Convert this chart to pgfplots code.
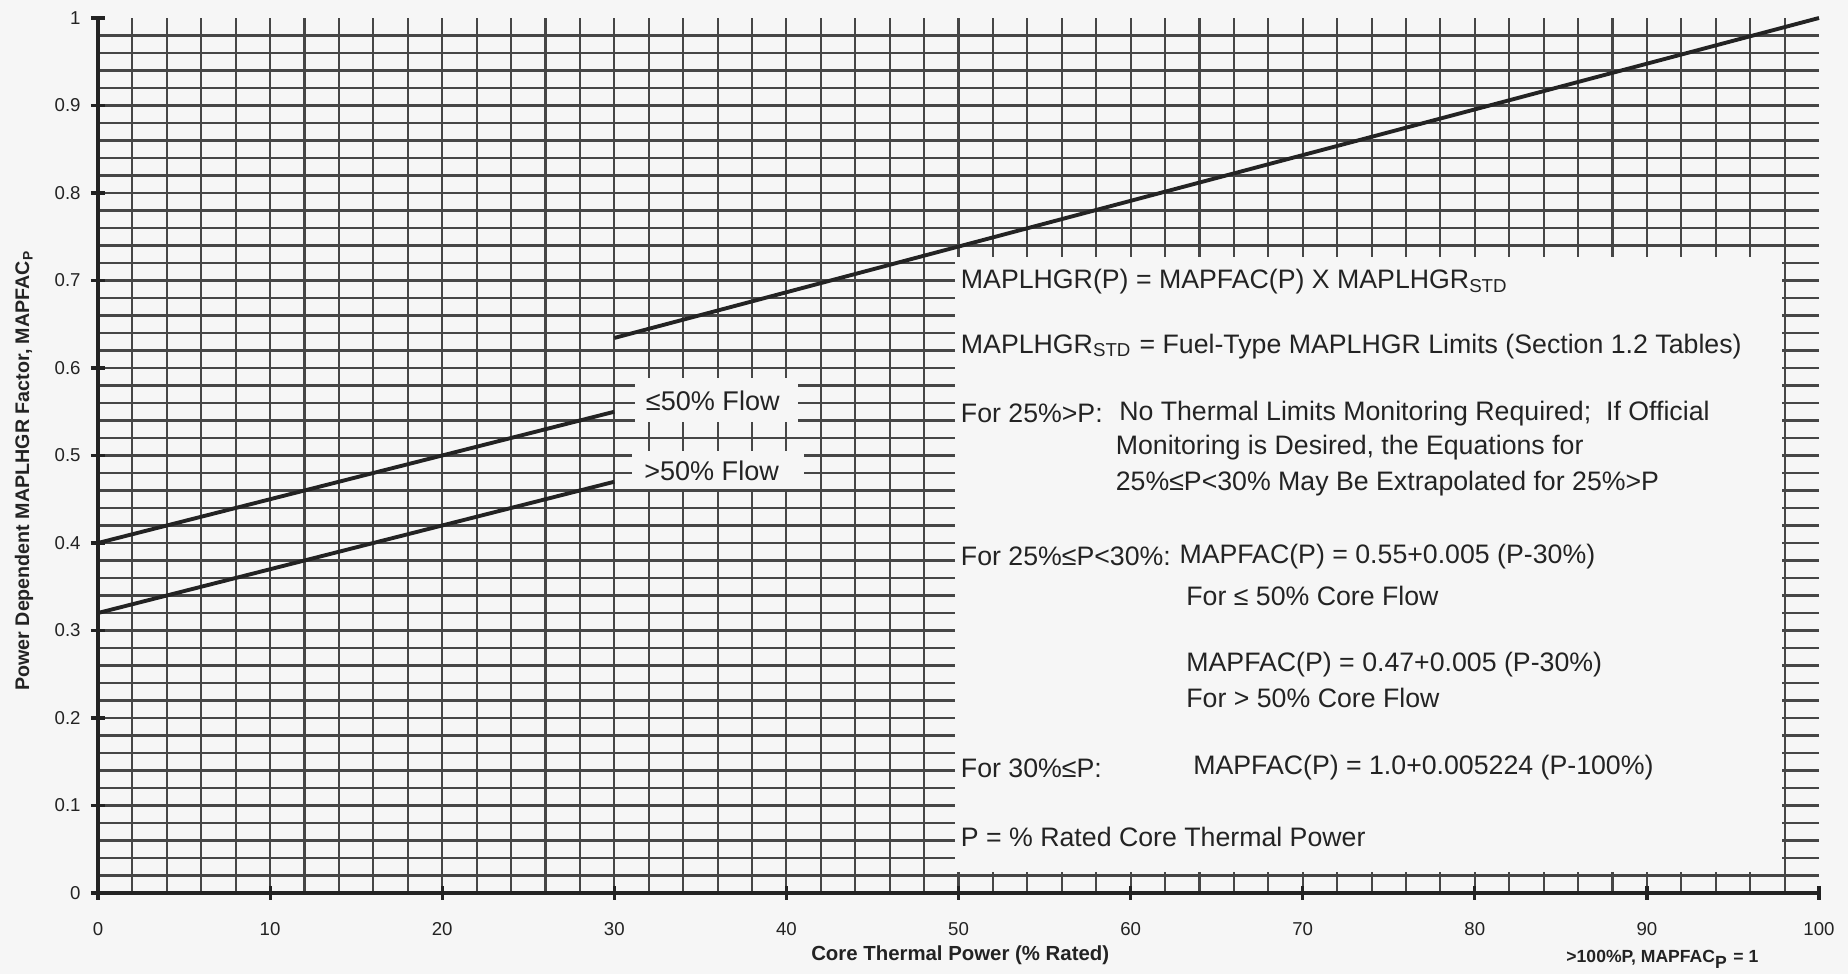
\documentclass[border=0pt]{standalone}
\usepackage{fontspec}
\setmainfont{Liberation Sans}
\usepackage{pgfplots}
\pgfplotsset{compat=1.18}
\definecolor{bg}{RGB}{246,246,246}
\definecolor{gridc}{RGB}{70,70,70}
\definecolor{linec}{RGB}{35,35,35}
\newcommand\bt{\fontsize{7.6}{8.5}\selectfont}
\begin{document}
\begin{tikzpicture}
\useasboundingbox[fill=bg] (-0.98cm,-0.81cm) rectangle (17.50cm,8.93cm);
\begin{axis}[
  at={(0,0)}, anchor=south west,
  scale only axis, width=17.21cm, height=8.75cm,
  xmin=0, xmax=100, ymin=0, ymax=1,
  clip=false,
  axis x line*=bottom, axis y line*=left,
  axis line style={line width=1.2pt, color=linec, -},
  xtick={0,10,...,90}, extra x ticks={100}, extra x tick style={grid=none},
  minor xtick={2,4,6,8,12,14,16,18,22,24,26,28,32,34,36,38,42,44,46,48,52,54,56,58,62,64,66,68,72,74,76,78,82,84,86,88,92,94,96,98},
  ytick={0,0.1,0.2,0.3,0.4,0.5,0.6,0.7,0.8,0.9}, extra y ticks={1}, extra y tick style={grid=none},
  minor ytick={0.02,0.04,0.06,0.08,0.12,0.14,0.16,0.18,0.22,0.24,0.26,0.28,0.32,0.34,0.36,0.38,0.42,0.44,0.46,0.48,0.52,0.54,0.56,0.58,0.62,0.64,0.66,0.68,0.72,0.74,0.76,0.78,0.82,0.84,0.86,0.88,0.92,0.94,0.96,0.98},
  grid=both,
  major grid style={gridc, line width=0.6pt},
  minor grid style={gridc, line width=0.6pt},
  major tick length=1.4mm, minor tick length=0pt,
  tick align=center,
  tick style={linec, line width=0.9pt},
  /pgf/number format/assume math mode=true,
  ticklabel style={font=\fontsize{5.3}{6}\selectfont, text=linec},
  xticklabel style={yshift=-1.0mm},
  yticklabel style={xshift=0.2mm},
]
% text panel
\fill[bg] (axis cs:49.8,0.024) rectangle (axis cs:97.85,0.727);
% flow label panels
\fill[bg] (axis cs:31.2,0.538) rectangle (axis cs:40.7,0.588);
\fill[bg] (axis cs:31.0,0.462) rectangle (axis cs:41.0,0.505);

\addplot[linec, line width=1.1pt] coordinates {(0,0.40) (30,0.55)};
\addplot[linec, line width=1.1pt] coordinates {(0,0.32) (30,0.47)};
\addplot[linec, line width=1.1pt] coordinates {(30,0.6343) (100,1.0)};

\node[anchor=west, inner sep=0, font=\fontsize{7.7}{8}\selectfont, text=linec] at (axis cs:31.8,0.562) {≤50\% Flow};
\node[anchor=west, inner sep=0, font=\fontsize{7.7}{8}\selectfont, text=linec] at (axis cs:31.7,0.482) {>50\% Flow};

\begin{scope}[every node/.style={anchor=west, inner sep=0, font=\bt, text=linec}]
\node at (axis cs:50.1,0.6985) {MAPLHGR(P) = MAPFAC(P) X MAPLHGR\textsubscript{STD}};
\node at (axis cs:50.1,0.6245) {MAPLHGR\textsubscript{STD} = Fuel-Type MAPLHGR Limits (Section 1.2 Tables)};
\node at (axis cs:50.1,0.548) {For 25\%>P:};
\node at (axis cs:59.3,0.548) {No Thermal Limits Monitoring Required;\ \ If Official};
\node at (axis cs:59.1,0.509) {Monitoring is Desired, the Equations for};
\node at (axis cs:59.1,0.468) {25\%≤P<30\% May Be Extrapolated for 25\%>P};
\node at (axis cs:50.1,0.385) {For 25\%≤P<30\%:};
\node at (axis cs:62.8,0.385) {MAPFAC(P) = 0.55+0.005 (P-30\%)};
\node at (axis cs:63.2,0.339) {For ≤ 50\% Core Flow};
\node at (axis cs:63.2,0.261) {MAPFAC(P) = 0.47+0.005 (P-30\%)};
\node at (axis cs:63.2,0.223) {For > 50\% Core Flow};
\node at (axis cs:50.1,0.143) {For 30\%≤P:};
\node at (axis cs:63.6,0.143) {MAPFAC(P) = 1.0+0.005224 (P-100\%)};
\node at (axis cs:50.1,0.0646) {P = \% Rated Core Thermal Power};
\end{scope}

\node[font=\bfseries\fontsize{5.8}{6}\selectfont, text=linec] at ([yshift=-6.25mm]axis cs:50.1,0) {Core Thermal Power (\% Rated)};
\node[font=\bfseries\fontsize{5}{6}\selectfont, text=linec] at ([yshift=-6.6mm]axis cs:90.9,0) {>100\%P, MAPFAC\textsubscript{P} = 1};
\node[rotate=90, font=\bfseries\fontsize{5.6}{6}\selectfont, text=linec] at ([xshift=-7.4mm]axis cs:0,0.483) {Power Dependent MAPLHGR Factor, MAPFAC\textsubscript{P}};
\end{axis}
\end{tikzpicture}
\end{document}
